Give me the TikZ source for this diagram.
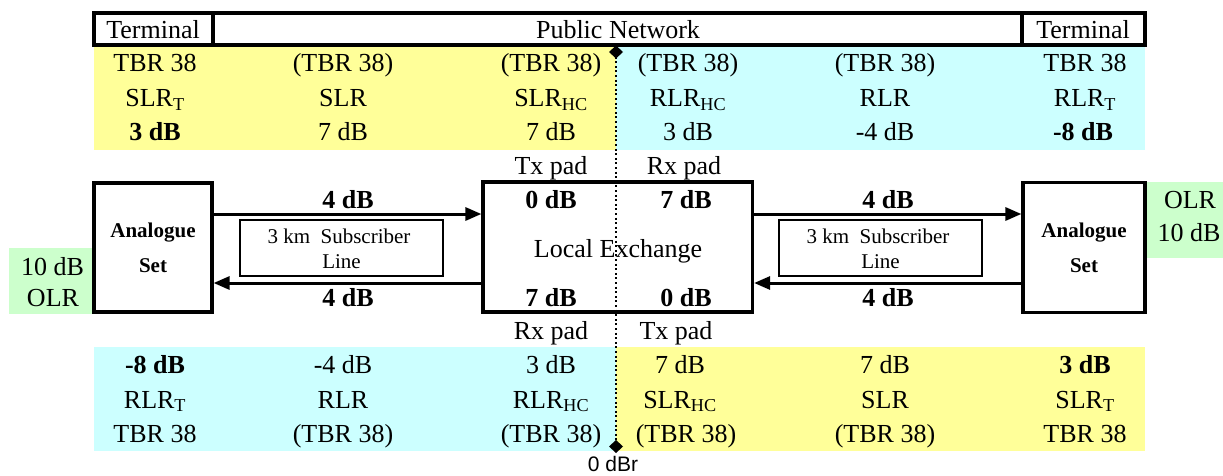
\documentclass[tikz,border=0pt]{standalone}
\usepackage{fontspec}
\setmainfont{Liberation Serif}
\newfontfamily\arialf{Liberation Sans}
\usetikzlibrary{arrows.meta,shapes.geometric}
\definecolor{ylw}{HTML}{FFFF99}
\definecolor{cyn}{HTML}{CCFFFF}
\definecolor{grn}{HTML}{CCFFCC}
\begin{document}
\begin{tikzpicture}[x=1pt,y=-1pt,
  txt/.style={anchor=base, inner sep=0pt, font=\fontsize{26}{30}\selectfont},
  btxt/.style={anchor=base, inner sep=0pt, font=\fontsize{26}{30}\selectfont\bfseries},
  smtxt/.style={anchor=base, inner sep=0pt, font=\fontsize{21}{24}\selectfont},
  bigbox/.style={draw, line width=3.2pt, inner sep=0pt},
  linebox/.style={draw, line width=1.4pt, inner sep=0pt, minimum width=203pt, minimum height=56pt},
  arr/.style={line width=3pt, -{Triangle[length=16pt,width=13pt]}},
  dotline/.style={line width=2pt, dash pattern=on 2pt off 2.6pt},
  refmark/.style={fill=black}]
\useasboundingbox (0,0) rectangle (1223,476);
% colour bands
\fill[ylw] (94,46) rectangle (616,150);
\fill[cyn] (616,46) rectangle (1145,150);
\fill[cyn] (94,347) rectangle (616,451);
\fill[ylw] (616,347) rectangle (1145,451);
\fill[grn] (9,248) rectangle (94,314);
\fill[grn] (1146,182) rectangle (1223,258);
% header
\node[bigbox, minimum width=119pt, minimum height=32pt] (hl) at (153.5,29) {};
\node[bigbox, minimum width=809pt, minimum height=32pt] (hm) at (617.5,29) {};
\node[bigbox, minimum width=123pt, minimum height=32pt] (hr) at (1083.5,29) {};
\node[txt] (hlt) at (153,38.5) {Terminal};
\node[txt] (hmt) at (618,38.5) {Public Network};
\node[txt] (hrt) at (1083,38.5) {Terminal};
% top table
\node[txt] (a1) at (155,72) {TBR 38};
\node[txt] (a2) at (343,72) {(TBR 38)};
\node[txt] (a3) at (551,72) {(TBR 38)};
\node[txt] (a4) at (688,72) {(TBR 38)};
\node[txt] (a5) at (885,72) {(TBR 38)};
\node[txt] (a6) at (1085,72) {TBR 38};
\node[txt] (b1) at (155,106.5) {SLR\textsubscript{T}};
\node[txt] (b2) at (343,106.5) {SLR};
\node[txt] (b3) at (551,106.5) {SLR\textsubscript{HC}};
\node[txt] (b4) at (688,106.5) {RLR\textsubscript{HC}};
\node[txt] (b5) at (885,106.5) {RLR};
\node[txt] (b6) at (1085,106.5) {RLR\textsubscript{T}};
\node[btxt] (c1) at (155,141) {3 dB};
\node[txt] (c2) at (343,141) {7 dB};
\node[txt] (c3) at (551,141) {7 dB};
\node[txt] (c4) at (688,141) {3 dB};
\node[txt] (c5) at (885,141) {-4 dB};
\node[btxt] (c6) at (1083,141) {-8 dB};
% bottom table
\node[btxt] (d1) at (155,373) {-8 dB};
\node[txt] (d2) at (343,373) {-4 dB};
\node[txt] (d3) at (551,373) {3 dB};
\node[txt] (d4) at (680,373) {7 dB};
\node[txt] (d5) at (885,373) {7 dB};
\node[btxt] (d6) at (1085,373) {3 dB};
\node[txt] (e1) at (155,408) {RLR\textsubscript{T}};
\node[txt] (e2) at (343,408) {RLR};
\node[txt] (e3) at (551,408) {RLR\textsubscript{HC}};
\node[txt] (e4) at (680,408) {SLR\textsubscript{HC}};
\node[txt] (e5) at (885,408) {SLR};
\node[txt] (e6) at (1085,408) {SLR\textsubscript{T}};
\node[txt] (f1) at (155,442) {TBR 38};
\node[txt] (f2) at (343,442) {(TBR 38)};
\node[txt] (f3) at (551,442) {(TBR 38)};
\node[txt] (f4) at (686,442) {(TBR 38)};
\node[txt] (f5) at (885,442) {(TBR 38)};
\node[txt] (f6) at (1085,442) {TBR 38};
% pads
\node[txt] (ptx1) at (551,174) {Tx pad};
\node[txt] (prx1) at (684,174) {Rx pad};
\node[txt] (prx2) at (551,339) {Rx pad};
\node[txt] (ptx2) at (676,339) {Tx pad};
% reference point line
\coordinate (dtop) at (616,52);
\coordinate (dbot) at (616,446.5);
\draw[dotline] (dtop) -- (dbot);
\fill[refmark] (dtop) ++(0,-6.5) -- ++(7,6.5) -- ++(-7,6.5) -- ++(-7,-6.5) -- cycle;
\fill[refmark] (dbot) ++(0,-6.5) -- ++(7,6.5) -- ++(-7,6.5) -- ++(-7,-6.5) -- cycle;
\node[anchor=base, inner sep=0pt, font=\arialf\fontsize{21}{24}\selectfont] (dbr) at (613,471) {0 dBr};
% boxes
\node[bigbox, minimum width=118pt, minimum height=129pt, align=center,
      font=\fontsize{21}{35}\selectfont\bfseries] (lset) at (153,247.5) {Analogue\\Set};
\node[bigbox, minimum width=269.5pt, minimum height=130pt] (lex) at (617.75,247) {};
\node[bigbox, minimum width=122pt, minimum height=130pt, align=center,
      font=\fontsize{21}{35}\selectfont\bfseries] (rset) at (1084,247.5) {Analogue\\Set};
\node[txt] (lext) at (618,257) {Local Exchange};
\node[btxt] (lx1) at (551,208) {0 dB};
\node[btxt] (lx2) at (686,208) {7 dB};
\node[btxt] (lx3) at (551,306.5) {7 dB};
\node[btxt] (lx4) at (686,306.5) {0 dB};
% subscriber lines
\node[linebox] (lline) at (341.5,248) {};
\node[linebox] (rline) at (880.5,248) {};
\node[smtxt] (ll1) at (339,243) {3 km\ \ Subscriber};
\node[smtxt] (ll2) at (341.5,268) {Line};
\node[smtxt] (rl1) at (878,243) {3 km\ \ Subscriber};
\node[smtxt] (rl2) at (880.5,268) {Line};
% connectors
\draw[arr] (lset.east |- 0,214) -- (lex.west |- 0,214);
\draw[arr] (lex.west |- 0,283) -- (lset.east |- 0,283);
\draw[arr] (lex.east |- 0,214) -- (rset.west |- 0,214);
\draw[arr] (rset.west |- 0,283) -- (lex.east |- 0,283);
\node[btxt] (g1) at (348,208) {4 dB};
\node[btxt] (g2) at (348,306.5) {4 dB};
\node[btxt] (g3) at (888,208) {4 dB};
\node[btxt] (g4) at (888,306.5) {4 dB};
% OLR labels
\node[txt] (ol1) at (52.5,275) {10 dB};
\node[txt] (ol2) at (53,306.5) {OLR};
\node[txt] (or1) at (1190,208) {OLR};
\node[txt] (or2) at (1189,241.5) {10 dB};
\end{tikzpicture}
\end{document}
